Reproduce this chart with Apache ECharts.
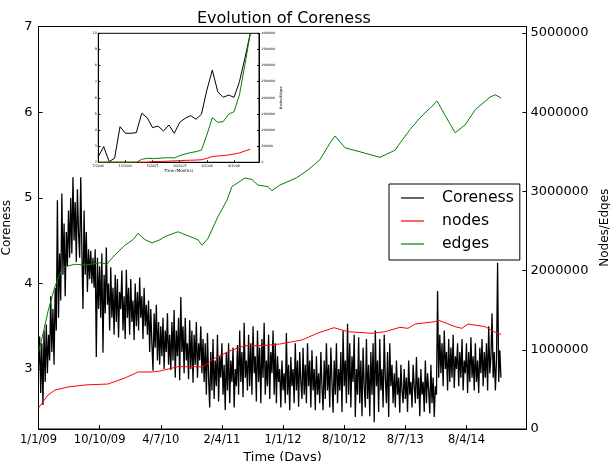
<!DOCTYPE html>
<html><head><meta charset="utf-8">
<script src="https://cdn.jsdelivr.net/npm/echarts@6/dist/echarts.min.js"></script>
<style>html,body{margin:0;padding:0;background:#fff}#c{width:610px;height:461px}</style>
</head><body><div id="c"></div>
<script>
// ---- data ----
const dayTickLabels = ['1/1/09','10/10/09','4/7/10','2/4/11','1/1/12','8/10/12','8/7/13','8/4/14'];
const dayTickStep = 275;
const coreStepDays = 5;
const coreness = [
3.0,3.38,2.72,3.3,2.58,3.45,2.85,3.52,2.95,3.4,
3.1,3.85,3.2,3.7,3.05,3.95,3.45,4.97,3.6,4.35,
3.8,5.05,4.1,4.7,3.85,4.6,4.2,4.85,4.3,5.0,
4.35,5.24,4.5,4.95,4.25,5.1,4.6,4.3,5.24,4.4,
3.7,4.85,4.1,4.6,3.9,4.4,4.05,4.38,4.0,4.3,
3.95,4.4,3.14,4.3,3.7,4.2,3.6,4.35,3.19,4.1,
3.65,4.42,3.75,4.0,3.45,4.19,3.6,3.95,3.4,4.1,
3.55,4.05,3.37,3.9,3.7,4.15,3.45,3.85,3.35,4.16,
3.6,3.95,3.4,4.05,3.55,3.8,3.34,4.0,3.5,3.9,
3.45,4.07,3.6,3.85,3.35,3.95,3.5,3.75,3.4,3.8,
3.2,3.7,3.3,2.98,3.65,3.25,3.75,3.1,3.55,3.05,
3.5,3.15,3.6,3.0,3.45,3.2,3.65,3.05,3.4,2.99,
3.55,3.1,3.69,2.9,3.45,3.15,3.6,2.87,3.84,3.2,
3.5,2.95,3.6,3.1,3.3,2.88,3.57,3.0,3.45,2.84,
3.4,3.05,3.55,2.9,3.3,3.1,3.5,2.95,3.35,2.85,
3.3,2.7,3.42,2.9,2.55,3.2,2.75,3.35,2.65,3.1,
2.8,3.4,2.62,3.15,2.9,3.3,2.7,3.05,2.52,3.2,
2.75,3.3,2.6,3.1,2.85,3.25,2.55,3.0,2.8,3.28,
2.7,3.45,2.85,3.2,2.67,3.54,2.9,3.1,2.75,3.4,
2.8,3.3,2.7,3.5,2.95,3.15,2.62,3.45,2.85,3.25,
2.6,3.35,2.9,3.54,2.7,3.1,2.8,3.4,2.65,3.2,
2.95,3.45,2.7,3.3,2.6,3.15,2.85,3.0,2.55,3.1,
2.75,2.95,2.6,3.42,2.7,3.05,2.52,3.14,2.8,3.0,
2.6,3.3,2.75,3.1,2.56,3.2,2.85,2.65,3.25,2.7,
3.05,2.6,3.3,2.8,3.1,2.55,3.22,2.75,3.0,2.52,
3.15,2.7,2.95,2.6,3.2,2.8,2.52,3.1,2.65,3.3,
2.75,3.05,2.55,3.25,2.85,2.49,3.1,2.7,3.3,2.6,
3.0,2.75,3.2,2.5,3.45,2.8,3.1,2.6,3.53,2.7,
3.3,2.55,3.15,2.85,3.4,2.44,3.0,2.7,3.37,2.6,
3.1,2.45,3.25,2.8,2.55,3.35,2.65,3.05,2.45,3.2,
2.7,3.3,2.38,3.45,2.8,3.1,2.5,3.35,2.75,3.0,
2.55,3.4,2.9,2.6,3.2,2.44,3.3,2.8,3.05,2.6,
2.95,2.55,3.1,2.7,2.9,2.49,3.05,2.75,2.6,3.0,
2.65,2.9,2.5,3.1,2.7,2.85,2.55,3.05,2.8,2.6,
3.14,2.65,2.9,2.45,3.0,2.7,2.85,2.5,3.1,2.6,
2.95,2.75,2.48,3.05,2.6,2.9,2.44,2.8,2.7,3.91,
2.9,3.4,2.95,3.3,2.8,3.45,3.0,3.2,2.75,3.35,
2.85,3.25,2.9,3.4,2.78,3.15,3.0,3.3,2.8,3.2,
2.9,3.35,2.75,3.1,2.95,3.3,2.72,3.2,2.85,3.37,
2.9,3.15,2.75,3.3,2.85,3.1,2.72,3.25,2.95,3.35,
2.8,3.2,2.9,3.3,2.75,3.5,2.95,3.15,3.65,2.9,
3.2,2.75,3.1,4.24,2.85,3.22,2.9
];
const nodeDays = [0,16,43,74,133,209,313,389,448,511,547,627,717,736,794,870,929,1005,1086,1185,1257,1329,1392,1500,1559,1626,1662,1694,1784,1797,1874,1905,1932,2009,2063,2081];
const nodeValues = [265000,328000,430000,492000,530000,556000,568000,644000,720000,720000,732000,787000,787000,780000,896000,997000,1052000,1052000,1073000,1124000,1212000,1279000,1229000,1208000,1229000,1284000,1271000,1326000,1355000,1376000,1292000,1271000,1326000,1292000,1208000,1196000];
const edgeDays = [0,16,44,74,104,119,164,209,284,307,344,389,425,448,479,511,547,569,627,672,717,736,763,807,848,870,929,960,987,1032,1050,1086,1160,1212,1266,1311,1334,1379,1446,1536,1604,1626,1671,1716,1761,1793,1829,1874,1919,1964,2031,2054,2081];
const edgeValues = [976000,1150000,1500000,1800000,2010000,2050000,2080000,2070000,2100000,2080000,2200000,2320000,2390000,2470000,2390000,2350000,2390000,2430000,2490000,2440000,2390000,2320000,2410000,2680000,2890000,3060000,3170000,3150000,3080000,3060000,3010000,3080000,3170000,3270000,3400000,3610000,3700000,3550000,3500000,3430000,3520000,3610000,3780000,3930000,4050000,4140000,3960000,3740000,3840000,4030000,4190000,4220000,4180000];

const insetTickLabels = ['7/2006','12/2006','5/2007','10/2007','3/2008','8/2008'];
const insetTickStep = 5;
const insetCoreness = [2.35,2.97,2.04,2.25,4.21,3.8,3.8,3.84,5.04,4.77,4.15,4.25,3.94,4.31,3.8,4.48,4.73,4.89,4.67,4.98,6.48,7.72,6.38,6.03,6.17,6.03,7.0,8.45,10.0];
const insetEdges = [0,0,0,0,0,0,0,0,93000,124000,114000,124000,134000,145000,134000,207000,258000,300000,330000,380000,850000,1385000,1240000,1260000,1490000,1570000,2090000,3020000,4000000];
const insetNodes = [0,0,0,0,0,0,0,0,0,0,20000,25000,30000,35000,45000,50000,60000,65000,70000,80000,124000,176000,196000,207000,227000,258000,289000,351000,403000];

// ---- chart ----
const FONT = 'DejaVu Sans';
const chart = echarts.init(document.getElementById('c'), null, {renderer: 'canvas'});
const pair = (xs, ys) => xs.map((x, i) => [x, ys[i]]);
const tickFmt = (labels, step) => v => {
  const i = Math.round(v / step);
  return Math.abs(v - i * step) < 1e-6 ? (labels[i] || '') : '';
};
const blk = '#000';
const tickIn = (len) => ({show: true, inside: true, length: len, lineStyle: {color: blk, width: 1}});

chart.setOption({
  animation: false,
  textStyle: {fontFamily: FONT},
  title: {text: 'Evolution of Coreness', left: 192, top: 6,
    textStyle: {fontFamily: FONT, fontSize: 16, fontWeight: 'normal', color: blk}},
  legend: {
    data: ['Coreness', 'nodes', 'edges'], orient: 'vertical', left: 389, top: 184,
    padding: [6, 6, 8, 12], icon: 'rect', itemWidth: 23, itemHeight: 1.2, itemGap: 7,
    borderColor: blk, borderWidth: 1, borderRadius: 0, backgroundColor: '#fff',
    selectedMode: false,
    textStyle: {fontFamily: FONT, fontSize: 15.6, lineHeight: 14, color: blk, padding: [0, 0, 0, 13]}
  },
  grid: [
    {left: 38.5, top: 26.5, width: 488, height: 402.5, show: true, borderColor: blk, borderWidth: 1,
     backgroundColor: 'transparent', outerBoundsMode: 'none', containLabel: false},
    {left: 98.3, top: 33.3, width: 160.7, height: 129, show: true, borderColor: blk, borderWidth: 1,
     backgroundColor: '#fff', z: 5, outerBoundsMode: 'none', containLabel: false}
  ],
  xAxis: [
    {gridIndex: 0, type: 'value', min: 0, max: 2195, interval: dayTickStep,
     axisLine: {lineStyle: {color: blk}}, axisTick: tickIn(4), splitLine: {show: false},
     axisLabel: {color: blk, fontFamily: FONT, fontSize: 11.5, margin: 5, showMaxLabel: false,
       formatter: tickFmt(dayTickLabels, dayTickStep)},
     name: 'Time (Days)', nameLocation: 'middle', nameGap: 12,
     nameTextStyle: {fontFamily: FONT, fontSize: 13, color: blk}},
    {gridIndex: 1, type: 'value', min: 0, max: 29.6, interval: insetTickStep, z: 6,
     axisLine: {lineStyle: {color: blk}}, axisTick: tickIn(2), splitLine: {show: false},
     axisLabel: {color: blk, fontFamily: FONT, fontSize: 3.3, margin: 2, showMaxLabel: false,
       formatter: tickFmt(insetTickLabels, insetTickStep)},
     name: 'Time (Months)', nameLocation: 'middle', nameGap: 7,
     nameTextStyle: {fontFamily: FONT, fontSize: 4, color: blk}}
  ],
  yAxis: [
    {gridIndex: 0, type: 'value', min: 2.3, max: 7, splitNumber: 5, position: 'left',
     axisLine: {lineStyle: {color: blk}}, axisTick: tickIn(4), splitLine: {show: false},
     axisLabel: {color: blk, fontFamily: FONT, fontSize: 13, margin: 6, showMinLabel: false,
       formatter: v => String(v)},
     name: 'Coreness', nameLocation: 'middle', nameGap: 14, nameRotate: 90,
     nameTextStyle: {fontFamily: FONT, fontSize: 12, color: blk}},
    {gridIndex: 0, type: 'value', min: 0, max: 5082000, interval: 1000000, position: 'right',
     axisLine: {lineStyle: {color: blk}}, axisTick: tickIn(4), splitLine: {show: false},
     axisLabel: {color: blk, fontFamily: FONT, fontSize: 13, margin: 4, showMaxLabel: false,
       formatter: v => String(v)},
     name: 'Nodes/Edges', nameLocation: 'middle', nameGap: 70, nameRotate: 90,
     nameTextStyle: {fontFamily: FONT, fontSize: 12, color: blk}},
    {gridIndex: 1, type: 'value', min: 2, max: 10, interval: 1, position: 'left', z: 6,
     axisLine: {lineStyle: {color: blk}}, axisTick: tickIn(2), splitLine: {show: false},
     axisLabel: {color: blk, fontFamily: FONT, fontSize: 3.4, margin: 1.5, formatter: v => String(v)}},
    {gridIndex: 1, type: 'value', min: 0, max: 4000000, interval: 500000, position: 'right', z: 6,
     axisLine: {lineStyle: {color: blk}}, axisTick: tickIn(2), splitLine: {show: false},
     axisLabel: {color: blk, fontFamily: FONT, fontSize: 3, margin: 2.5, formatter: v => String(v)},
     name: 'Nodes/Edges', nameLocation: 'middle', nameGap: 11, nameRotate: 90,
     nameTextStyle: {fontFamily: FONT, fontSize: 3.5, color: blk}}
  ],
  series: [
    {name: 'Coreness', type: 'line', xAxisIndex: 0, yAxisIndex: 0, symbol: 'none', z: 2,
     data: coreness.map((v, i) => [i * coreStepDays, v]),
     lineStyle: {color: '#000000', width: 1.3}, itemStyle: {color: '#000000'}},
    {name: 'nodes', type: 'line', xAxisIndex: 0, yAxisIndex: 1, symbol: 'none', z: 3,
     data: pair(nodeDays, nodeValues),
     lineStyle: {color: '#ff0000', width: 1}, itemStyle: {color: '#ff0000'}},
    {name: 'edges', type: 'line', xAxisIndex: 0, yAxisIndex: 1, symbol: 'none', z: 3,
     data: pair(edgeDays, edgeValues),
     lineStyle: {color: '#008000', width: 1}, itemStyle: {color: '#008000'}},
    {name: 'inset-coreness', type: 'line', xAxisIndex: 1, yAxisIndex: 2, symbol: 'none', z: 7,
     data: insetCoreness.map((v, i) => [i, v]),
     lineStyle: {color: '#000000', width: 1}, itemStyle: {color: '#000000'}},
    {name: 'inset-nodes', type: 'line', xAxisIndex: 1, yAxisIndex: 3, symbol: 'none', z: 7,
     data: insetNodes.map((v, i) => [i, v]),
     lineStyle: {color: '#ff0000', width: 1}, itemStyle: {color: '#ff0000'}},
    {name: 'inset-edges', type: 'line', xAxisIndex: 1, yAxisIndex: 3, symbol: 'none', z: 7,
     data: insetEdges.map((v, i) => [i, v]),
     lineStyle: {color: '#008000', width: 1}, itemStyle: {color: '#008000'}}
  ]
});
</script>
</body></html>
